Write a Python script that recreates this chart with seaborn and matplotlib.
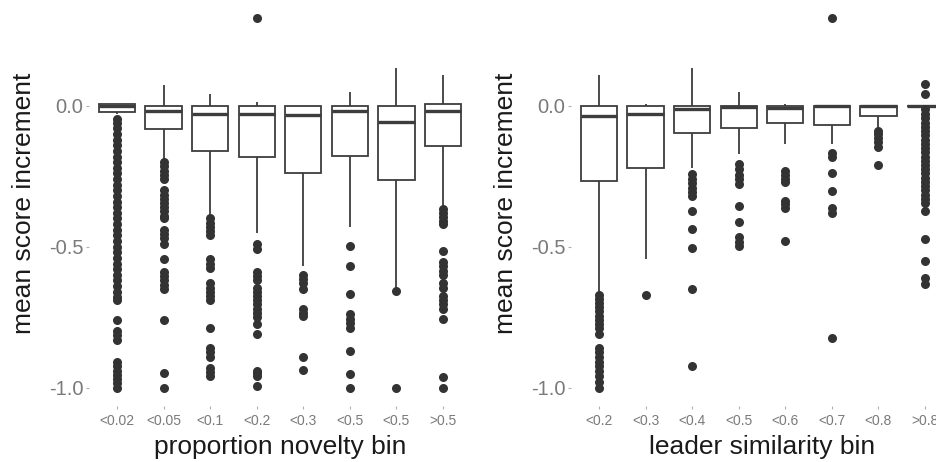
import numpy as np
import pandas as pd
import matplotlib
matplotlib.use("Agg")
import matplotlib.pyplot as plt
import seaborn as sns

# ---------------- data ----------------
left_cats = ["<0.02", "<0.05", "<0.1", "<0.2", "<0.3", "<0.5", "<0.5 ", ">0.5"]
left_tick_labels = ["<0.02", "<0.05", "<0.1", "<0.2", "<0.3", "<0.5", "<0.5", ">0.5"]
left_lo = [-0.03, -0.20, -0.39, -0.45, -0.568, -0.43, -0.651, -0.36]
left_q1 = [-0.021, -0.083, -0.16, -0.18, -0.239, -0.178, -0.263, -0.142]
left_med = [0.0, -0.018, -0.03, -0.03, -0.032, -0.02, -0.057, -0.018]
left_q3 = [0.006, 0.0, 0.0, 0.0, 0.0, 0.0, -0.002, 0.006]
left_hi = [0.006, 0.073, 0.041, 0.012, 0.0, 0.05, 0.134, 0.11]
left_out = [
    [-0.047, -0.06, -0.08, -0.10, -0.12, -0.14, -0.16, -0.18, -0.20, -0.22, -0.24,
     -0.26, -0.28, -0.30, -0.32, -0.34, -0.36, -0.38, -0.40, -0.42, -0.44, -0.46,
     -0.48, -0.50, -0.52, -0.54, -0.56, -0.58, -0.60, -0.62, -0.64, -0.66, -0.68,
     -0.69, -0.76, -0.80, -0.815, -0.83, -0.91, -0.925, -0.94, -0.955, -0.97,
     -0.985, -1.0],
    [-0.20, -0.215, -0.23, -0.245, -0.26, -0.30, -0.315, -0.33, -0.345, -0.36,
     -0.375, -0.39, -0.40, -0.44, -0.455, -0.47, -0.49, -0.545, -0.59, -0.605,
     -0.62, -0.635, -0.65, -0.76, -0.95, -1.0],
    [-0.40, -0.415, -0.43, -0.445, -0.46, -0.545, -0.56, -0.574, -0.63, -0.645,
     -0.66, -0.675, -0.69, -0.787, -0.86, -0.875, -0.89, -0.93, -0.945, -0.96],
    [-0.49, -0.51, -0.59, -0.605, -0.62, -0.645, -0.66, -0.675, -0.69, -0.705,
     -0.72, -0.735, -0.75, -0.775, -0.81, -0.94, -0.95, -0.96, -0.995, 0.311],
    [-0.60, -0.615, -0.63, -0.65, -0.72, -0.735, -0.745, -0.89, -0.937],
    [-0.497, -0.568, -0.669, -0.74, -0.755, -0.77, -0.79, -0.872, -0.953, -1.0],
    [-0.657, -1.0],
    [-0.367, -0.38, -0.395, -0.41, -0.42, -0.515, -0.556, -0.57, -0.585, -0.60,
     -0.63, -0.645, -0.675, -0.69, -0.705, -0.72, -0.758, -0.961, -1.0],
]

right_cats = ["<0.2", "<0.3", "<0.4", "<0.5", "<0.6", "<0.7", "<0.8", ">0.8"]
right_lo = [-0.663, -0.545, -0.222, -0.172, -0.136, -0.136, -0.08, 0.0]
right_q1 = [-0.266, -0.222, -0.098, -0.08, -0.062, -0.067, -0.036, 0.0]
right_med = [-0.035, -0.03, -0.012, -0.006, -0.008, -0.002, -0.002, 0.0]
right_q3 = [0.0, 0.0, 0.0, 0.0, 0.0, 0.0, 0.0, 0.0]
right_hi = [0.11, 0.006, 0.134, 0.05, 0.006, 0.0, 0.0, 0.0]
right_out = [
    [-0.67, -0.685, -0.70, -0.715, -0.73, -0.745, -0.76, -0.775, -0.79, -0.81,
     -0.86, -0.875, -0.89, -0.91, -0.925, -0.94, -0.96, -0.98, -1.0],
    [-0.671],
    [-0.243, -0.26, -0.275, -0.29, -0.305, -0.32, -0.373, -0.438, -0.503, -0.649,
     -0.923],
    [-0.207, -0.225, -0.245, -0.26, -0.278, -0.357, -0.412, -0.467, -0.482, -0.497],
    [-0.23, -0.245, -0.26, -0.272, -0.337, -0.35, -0.361, -0.479],
    [-0.166, -0.18, -0.237, -0.302, -0.361, -0.379, -0.823, 0.311],
    [-0.089, -0.10, -0.115, -0.13, -0.148, -0.21],
    [0.077, 0.041, -0.012, -0.03, -0.045, -0.06, -0.075, -0.09, -0.105, -0.12,
     -0.135, -0.15, -0.165, -0.18, -0.195, -0.21, -0.225, -0.24, -0.255, -0.27,
     -0.285, -0.30, -0.315, -0.33, -0.345, -0.373, -0.473, -0.55, -0.61, -0.633],
]

y_ticks = [0.0, -0.5, -1.0]
y_tick_labels = ["0.0", "-0.5", "-1.0"]

# ---------------- style ----------------
sns.set_theme(style="white")
plt.rcParams["font.family"] = ["Liberation Sans", "DejaVu Sans"]
plt.rcParams["axes.unicode_minus"] = False

W, H = 936, 462
fig = plt.figure(figsize=(W / 100, H / 100), dpi=100)

EDGE = "#3d3d3d"
PT = "#333333"


def make_box_df(cats, lo, q1, med, q3, hi):
    rows = []
    for c, a, b, m, d, e in zip(cats, lo, q1, med, q3, hi):
        for v in (a, b, m, d, e):
            rows.append({"bin": c, "val": v})
    return pd.DataFrame(rows)


def make_out_df(cats, outs):
    rows = []
    for c, vs in zip(cats, outs):
        for v in vs:
            rows.append({"bin": c, "val": v})
    return pd.DataFrame(rows)


def panel(ax, cats, ticklabels, lo, q1, med, q3, hi, outs, xlabel):
    bdf = make_box_df(cats, lo, q1, med, q3, hi)
    odf = make_out_df(cats, outs)
    sns.boxplot(data=bdf, x="bin", y="val", order=cats, ax=ax, color="white",
                linecolor=EDGE, linewidth=1.3, width=0.78, whis=np.inf,
                showfliers=False, showcaps=False,
                medianprops={"linewidth": 2.4, "color": EDGE})
    sns.stripplot(data=odf, x="bin", y="val", order=cats, ax=ax, jitter=False,
                  color=PT, size=6.5, linewidth=0, zorder=3)
    ax.set_xlim(-0.6, len(cats) - 0.4)
    ax.set_ylim(-1.0655, 0.3755)
    ax.set_yticks(y_ticks)
    ax.set_yticklabels(y_tick_labels)
    ax.set_xticks(range(len(cats)))
    ax.set_xticklabels(ticklabels)
    for s in ax.spines.values():
        s.set_visible(False)
    ax.grid(False)
    ax.tick_params(axis="y", which="major", length=2.5, width=0.8,
                   color="#b0b0b0", labelsize=14.5, labelcolor="#7a7a7a",
                   pad=1.5, left=True)
    ax.tick_params(axis="x", which="major", length=2.5, width=0.8,
                   color="#b0b0b0", labelsize=10, labelcolor="#7a7a7a",
                   pad=3.5, bottom=True)
    ax.set_ylabel("mean score increment", fontsize=19, color="#1a1a1a")
    ax.set_xlabel(xlabel, fontsize=19, color="#1a1a1a")
    ax.yaxis.set_label_coords(-0.14, 0.5)
    ax.xaxis.set_label_coords(0.5, -0.072)
    ax.set_facecolor("white")


# axes positions in pixels
ax_h = 406
ax_w = 382
ax1 = fig.add_axes([89 / W, (H - ax_h) / H, ax_w / W, ax_h / H])
ax2 = fig.add_axes([571 / W, (H - ax_h) / H, ax_w / W, ax_h / H])

panel(ax1, left_cats, left_tick_labels, left_lo, left_q1, left_med, left_q3,
      left_hi, left_out, "proportion novelty bin")
panel(ax2, right_cats, right_cats, right_lo, right_q1, right_med, right_q3,
      right_hi, right_out, "leader similarity bin")

fig.savefig("out.png", dpi=100, facecolor="white")
